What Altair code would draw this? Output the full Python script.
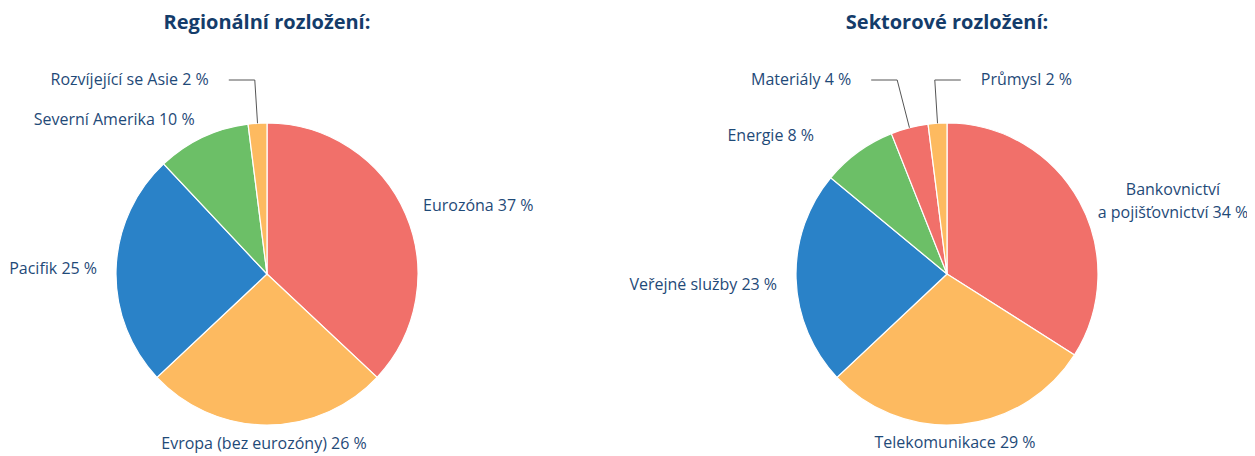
import altair as alt
import pandas as pd

# ---- data ----
reg_title = "Regionální rozložení:"
reg_cats = ["Eurozóna", "Evropa (bez eurozóny)", "Pacifik", "Severní Amerika", "Rozvíjející se Asie"]
reg_vals = [37, 26, 25, 10, 2]

sec_title = "Sektorové rozložení:"
sec_cats = ["Bankovnictví\na pojišťovnictví", "Telekomunikace", "Veřejné služby", "Energie", "Materiály", "Průmysl"]
sec_vals = [34, 29, 23, 8, 4, 2]

# ---- styles / layout ----
reg_colors = ["#F1706A", "#FDBA60", "#2A82C8", "#6CBF67", "#FDBA60"]
sec_colors = ["#F1706A", "#FDBA60", "#2A82C8", "#6CBF67", "#F1706A", "#FDBA60"]
LABEL_COLOR = "#1F4A78"
TITLE_COLOR = "#143C6A"
FONT = "Open Sans"
FS = 16
R = 151          # pie radius
RL = 170         # label radius
TOPLINE = 194    # distance from centre to leader-line elbow height

# per-label layout hints (leader side, align, pixel nudges)
reg_hints = {"Rozvíjející se Asie": {"leader": "left"}, "Evropa (bez eurozóny)": {"dx": -3}}
sec_hints = {
    "Bankovnictví\na pojišťovnictví": {"align": "center", "dx": 77, "dy": -2},
    "Telekomunikace": {"dx": -8},
    "Veřejné služby": {"dy": 6},
    "Energie": {"dx": -33},
    "Materiály": {"leader": "left"},
    "Průmysl": {"leader": "right"},
}


def make_table(cats, vals, colors, hints):
    rows = []
    for i, (c, v, col) in enumerate(zip(cats, vals, colors)):
        h = hints.get(c, {})
        rows.append({
            "idx": i, "cat": c, "value": v, "color": col,
            "label": f"{c} {v} %",
            "leader": h.get("leader", "none"),
            "halign": h.get("align", "auto"),
            "ldx": h.get("dx", 0), "ldy": h.get("dy", 0),
        })
    return pd.DataFrame(rows)


def pie_layers(df, cx, cy, title):
    base = alt.Chart(df)
    arcs = base.mark_arc(outerRadius=R, stroke="white", strokeWidth=1.2).encode(
        theta=alt.Theta("value:Q", stack=True),
        color=alt.Color("color:N", scale=None),
        order=alt.Order("idx:Q"),
        x=alt.value(cx), y=alt.value(cy),
    )

    geo = base.transform_window(
        cum="sum(value)", sort=[alt.SortField("idx")], frame=[None, 0]
    ).transform_joinaggregate(total="sum(value)").transform_calculate(
        mid="2*PI*(datum.cum - datum.value/2)/datum.total"
    ).transform_calculate(
        s="sin(datum.mid)", c="cos(datum.mid)"
    ).transform_calculate(
        lx=f"{cx} + {RL}*datum.s + datum.ldx",
        ly=f"{cy} - {RL}*datum.c + datum.ldy",
        ex=f"{cx} + {R}*datum.s",
        ey=f"{cy} - {R}*datum.c",
        kx=f"{cx} + {TOPLINE}*datum.s/datum.c",
        ky=f"{cy} - {TOPLINE}",
    ).transform_calculate(
        hx="datum.leader == 'left' ? datum.kx - 26 : datum.kx + 26",
        tx="datum.leader == 'left' ? datum.kx - 46 : datum.kx + 46",
        al="datum.halign != 'auto' ? datum.halign : (datum.s > 0.2 ? 'left' : (datum.s < -0.2 ? 'right' : 'center'))",
    )

    txt_kw = dict(font=FONT, fontSize=FS, color=LABEL_COLOR, baseline="middle",
                  lineBreak="\n", lineHeight=23)
    normal = geo.transform_filter("datum.leader == 'none'")
    layers = [arcs]
    for a in ["left", "right", "center"]:
        layers.append(
            normal.transform_filter(f"datum.al == '{a}'").mark_text(align=a, **txt_kw).encode(
                x=alt.X("lx:Q", scale=None), y=alt.Y("ly:Q", scale=None), text="label:N"
            )
        )
    lead = geo.transform_filter("datum.leader != 'none'")
    layers.append(
        lead.mark_rule(color="#555555", strokeWidth=1).encode(
            x=alt.X("ex:Q", scale=None), y=alt.Y("ey:Q", scale=None),
            x2="kx:Q", y2="ky:Q",
        )
    )
    layers.append(
        lead.mark_rule(color="#555555", strokeWidth=1).encode(
            x=alt.X("kx:Q", scale=None), y=alt.Y("ky:Q", scale=None),
            x2="hx:Q", y2="ky:Q",
        )
    )
    for side, a in [("left", "right"), ("right", "left")]:
        layers.append(
            lead.transform_filter(f"datum.leader == '{side}'").mark_text(align=a, **txt_kw).encode(
                x=alt.X("tx:Q", scale=None), y=alt.Y("ky:Q", scale=None), text="label:N"
            )
        )
    layers.append(
        alt.Chart(pd.DataFrame({"t": [title]})).mark_text(
            font=FONT, fontSize=20, fontWeight="bold", color=TITLE_COLOR,
            align="center", baseline="middle",
        ).encode(x=alt.value(cx), y=alt.value(15), text="t:N")
    )
    return layers


reg_df = make_table(reg_cats, reg_vals, reg_colors, reg_hints)
sec_df = make_table(sec_cats, sec_vals, sec_colors, sec_hints)

layers = pie_layers(reg_df, 259, 266, reg_title) + pie_layers(sec_df, 939, 266, sec_title)

chart = alt.layer(*layers).properties(
    width=1239, height=448,
    autosize=alt.AutoSizeParams(type="none"),
    padding=0,
).resolve_scale(theta="independent").configure_view(stroke=None)

chart.save("out.html", embed_options={"renderer": "svg", "actions": False})
